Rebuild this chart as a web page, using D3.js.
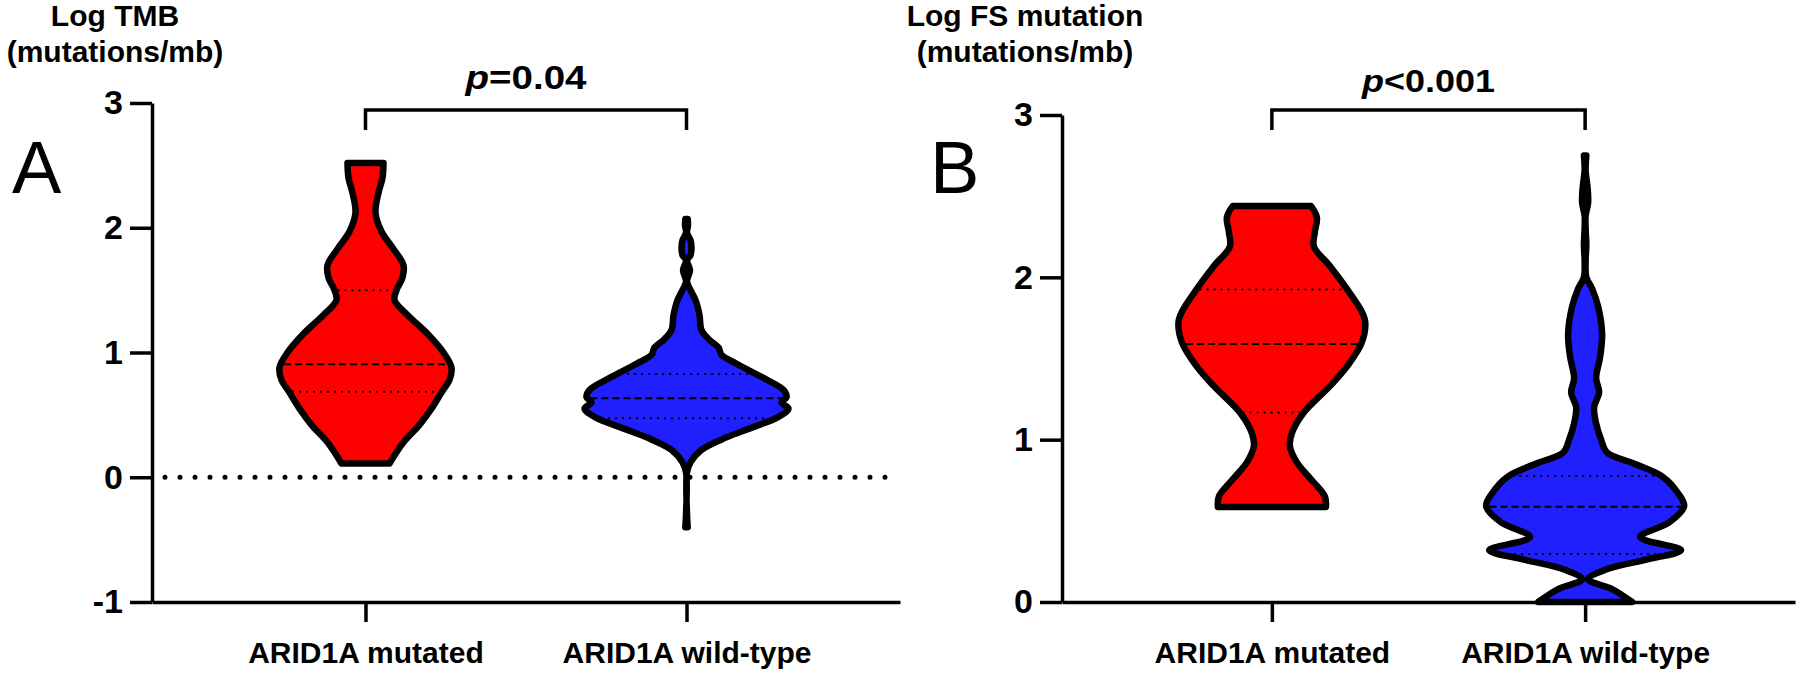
<!DOCTYPE html>
<html>
<head>
<meta charset="utf-8">
<script src="https://cdn.jsdelivr.net/npm/d3@7"></script>
<style>
  body { margin: 0; background: #fff; }
  svg { display: block; }
  text { font-family: 'Liberation Sans', Arial, sans-serif; fill: #000; }
</style>
</head>
<body>
<svg id="chart"></svg>
<script>
const categories = ['ARID1A mutated', 'ARID1A wild-type'];
const groupColors = ['#ff0000', '#2020ff'];
const panelLetters = ['A', 'B'];
const yTitles = [['Log TMB', '(mutations/mb)'], ['Log FS mutation', '(mutations/mb)']];
const pValues = ['=0.04', '<0.001'];

// panel A, log TMB: violin outline as [value, relative density]
const tmbTicks = [-1, 0, 1, 2, 3];
const tmbMutated = [
    [2.52, .18], [2.40, .17], [2.28, .13], [2.12, .10], [1.97, .16], [1.83, .28],
    [1.70, .38], [1.60, .37], [1.50, .31], [1.42, .29], [1.30, .42], [1.15, .62],
    [1.00, .78], [0.88, .86], [0.78, .84], [0.68, .76], [0.55, .66], [0.42, .54],
    [0.28, .38], [0.11, .24]
];
const tmbWildType = [
    [2.07, .012], [2.02, .015], [1.96, .005], [1.90, .04], [1.84, .05], [1.78, .04],
    [1.74, .005], [1.66, .035], [1.57, .005], [1.50, .04], [1.42, .09], [1.30, .13],
    [1.18, .15], [1.10, .23], [1.04, .32], [0.98, .35], [0.91, .50], [0.80, .76],
    [0.70, .97], [0.64, 1.0], [0.60, .95], [0.55, 1.02], [0.48, .91], [0.40, .66],
    [0.32, .40], [0.22, .15], [0.12, .04], [0.04, .005], [-0.30, .005], [-0.40, .012]
];
// [Q1, median, Q3]
const tmbQuartilesMutated = [0.686, 0.905, 1.50];
const tmbQuartilesWild = [0.472, 0.633, 0.828];

// panel B, log FS mutation
const fsTicks = [0, 1, 2, 3];
const fsMutated = [
    [2.44, .39], [2.37, .45], [2.28, .43], [2.19, .42], [2.07, .58], [1.92, .76],
    [1.74, .93], [1.60, .90], [1.45, .75], [1.33, .58], [1.16, .31], [1.04, .20],
    [0.96, .18], [0.86, .25], [0.75, .40], [0.65, .53], [0.585, .54]
];
const fsWildType = [
    [2.75, .012], [2.66, .005], [2.55, .025], [2.46, .03], [2.38, .005], [2.30, .005],
    [2.20, .012], [2.10, .005], [2.00, .012], [1.93, .07], [1.82, .13], [1.65, .17],
    [1.51, .15], [1.38, .11], [1.29, .14], [1.20, .09], [1.10, .11], [1.00, .16],
    [0.92, .22], [0.85, .50], [0.77, .78], [0.67, .93], [0.59, .99], [0.49, .84],
    [0.40, .55], [0.32, .96], [0.26, .60], [0.20, .21], [0.14, .03], [0.08, .27],
    [0.0, .47]
];
const fsQuartilesMutated = [1.168, 1.59, 1.925];
const fsQuartilesWild = [0.295, 0.587, 0.776];

const svg = d3.select('#chart')
    .attr('width', 1800)
    .attr('height', 676);

const bottom = 602;
const bracketTop = 110;

function drawPanel(p) {
    const g = svg.append('g');

    const y = d3.scaleLinear().domain(p.yDomain).range([bottom, p.yTop]);
    const x = d3.scalePoint().domain(categories).range([p.left, p.right]).padding(p.pad);
    const w = d3.scaleLinear().domain([0, 1]).range([0, 100]);

    // zero reference line
    if (p.zeroLine) {
        g.append('line')
            .attr('x1', p.left + 13).attr('x2', p.right - 10)
            .attr('y1', y(0)).attr('y2', y(0))
            .attr('stroke', '#000')
            .attr('stroke-width', 5)
            .attr('stroke-linecap', 'round')
            .attr('stroke-dasharray', '0 15');
    }

    p.violins.forEach((profile, i) => {
        const cx = x(categories[i]);
        const area = d3.area()
            .y(d => y(d[0]))
            .x0(d => cx - w(d[1]))
            .x1(d => cx + w(d[1]))
            .curve(d3.curveCatmullRom.alpha(0.5));

        g.append('path')
            .attr('d', area(profile))
            .attr('fill', groupColors[i]);

        const half = d3.scaleLinear()
            .domain(profile.map(d => d[0]))
            .range(profile.map(d => d[1]));

        // Q1 and Q3 dotted, median dashed
        p.quartiles[i].forEach((q, k) => {
            const hw = Math.max(0, w(half(q)) - 3);
            g.append('line')
                .attr('x1', cx - hw).attr('x2', cx + hw)
                .attr('y1', y(q)).attr('y2', y(q))
                .attr('stroke', '#000')
                .attr('stroke-width', 2)
                .attr('stroke-dasharray', k === 1 ? '7 4' : '2 5');
        });

        g.append('path')
            .attr('d', area(profile))
            .attr('fill', 'none')
            .attr('stroke', '#000')
            .attr('stroke-width', 6.5)
            .attr('stroke-linejoin', 'round');
    });

    // axes
    const yAxis = g.append('g')
        .attr('transform', `translate(${p.left},0)`)
        .call(d3.axisLeft(y)
            .tickValues(p.ticks)
            .tickFormat(d => String(d))
            .tickSize(22)
            .tickSizeOuter(0)
            .tickPadding(7));

    const xAxis = g.append('g')
        .attr('transform', `translate(0,${bottom})`)
        .call(d3.axisBottom(x).tickSize(20).tickSizeOuter(0));

    [yAxis, xAxis].forEach(a => {
        a.selectAll('.domain, .tick line')
            .attr('stroke', '#000')
            .attr('stroke-width', 3.5);
        a.selectAll('text')
            .attr('fill', '#000')
            .style('font-weight', 'bold');
    });
    yAxis.selectAll('text').style('font-size', '34px');
    xAxis.selectAll('text')
        .style('font-size', '30px')
        .attr('y', 61)
        .attr('dy', null);

    // significance bracket
    const [x1, x2] = categories.map(c => x(c));
    g.append('path')
        .attr('d', `M${x1},${bracketTop + 20}V${bracketTop}H${x2}V${bracketTop + 20}`)
        .attr('fill', 'none')
        .attr('stroke', '#000')
        .attr('stroke-width', 3.5);

    const pt = g.append('text')
        .attr('x', (x1 + x2) / 2)
        .attr('y', p.pY)
        .attr('text-anchor', 'middle')
        .attr('textLength', p.pWidth)
        .attr('lengthAdjust', 'spacingAndGlyphs')
        .style('font-size', p.pSize + 'px')
        .style('font-weight', 'bold');
    pt.append('tspan').style('font-style', 'italic').text('p');
    pt.append('tspan').text(p.pText);

    // y title
    const tt = g.append('text')
        .attr('text-anchor', 'middle')
        .style('font-size', '30px')
        .style('font-weight', 'bold');
    p.title.forEach((line, k) => {
        tt.append('tspan')
            .attr('x', p.left - 37)
            .attr('y', 26 + k * 36)
            .text(line);
    });

    g.append('text')
        .attr('x', p.letterX)
        .attr('y', 193)
        .style('font-size', '74px')
        .text(p.letter);
}

drawPanel({
    left: 152, right: 900, pad: 0.665, yTop: 103, yDomain: [-1, 3],
    ticks: tmbTicks, violins: [tmbMutated, tmbWildType],
    quartiles: [tmbQuartilesMutated, tmbQuartilesWild],
    zeroLine: true, pText: pValues[0], pY: 89, pSize: 33, pWidth: 121,
    title: yTitles[0], letter: panelLetters[0], letterX: 12
});

drawPanel({
    left: 1062, right: 1795, pad: 0.67, yTop: 115, yDomain: [0, 3],
    ticks: fsTicks, violins: [fsMutated, fsWildType],
    quartiles: [fsQuartilesMutated, fsQuartilesWild],
    zeroLine: false, pText: pValues[1], pY: 92, pSize: 31, pWidth: 133,
    title: yTitles[1], letter: panelLetters[1], letterX: 930
});
</script>
</body>
</html>
